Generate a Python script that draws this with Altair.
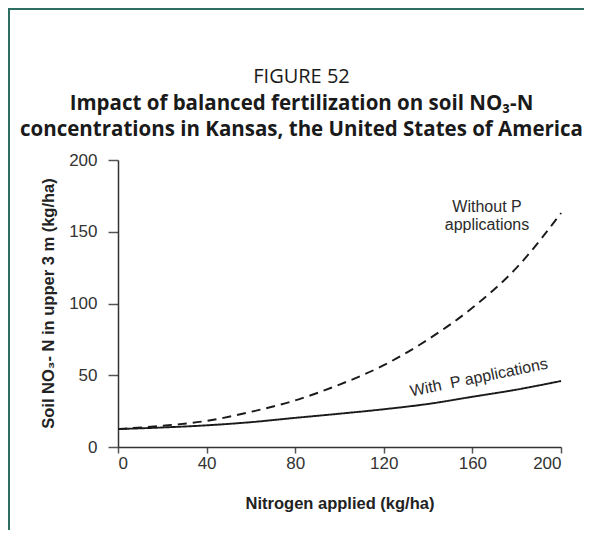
import altair as alt
import pandas as pd

# ---- data ----
nitrogen = [0, 20, 40, 60, 80, 100, 120, 140, 160, 180, 200]
without_p = [12.5, 14.8, 18.2, 24.5, 32.5, 43.5, 57, 75, 97, 125, 163]
with_p = [12.5, 13.6, 15.1, 17.3, 20.3, 23.2, 26.3, 30, 35, 40, 46]
series_names = ["Without P applications", "With P applications"]
x_ticks = [0, 40, 80, 120, 160, 200]
y_ticks = [0, 50, 100, 150, 200]

ann_text = ["Without P\napplications", "With\u00a0 P applications"]
ann_x = [166.6, 163.4]
ann_y = [163.9, 45.0]
ann_angle = [0, 348.5]

rows = []
for n, a, b in zip(nitrogen, without_p, with_p):
    rows.append({"N": n, "NO3": a, "series": series_names[0]})
    rows.append({"N": n, "NO3": b, "series": series_names[1]})
df = pd.DataFrame(rows)
ann = pd.DataFrame({"text": ann_text, "x": ann_x, "y": ann_y, "angle": ann_angle})

W, H = 443, 287
PAD_L, PAD_T = 110, 152
TOTAL_W, TOTAL_H = 576, 522

SANS = "Liberation Sans, Arial, sans-serif"
TITLE_FONT = "Open Sans, Noto Sans, sans-serif"

xscale = alt.Scale(domain=[0, 200], nice=False)
yscale = alt.Scale(domain=[0, 200], nice=False)

lines = alt.Chart(df).mark_line(strokeWidth=1.9, color="#1a1a1a", interpolate="monotone").encode(
    x=alt.X("N:Q", scale=xscale,
            axis=alt.Axis(title="Nitrogen applied (kg/ha)", values=x_ticks, tickSize=6,
                          labelPadding=2, titleY=56, titleBaseline="middle")),
    y=alt.Y("NO3:Q", scale=yscale,
            axis=alt.Axis(title="Soil NO₃- N in upper 3 m (kg/ha)", values=y_ticks, tickSize=10,
                          labelPadding=11, titleX=-70, titleY=143, titleAngle=270,
                          titleAlign="center", titleBaseline="middle")),
    strokeDash=alt.StrokeDash("series:N",
                              scale=alt.Scale(domain=series_names, range=[[9, 6], [1, 0]]),
                              legend=None),
)

labels_top = alt.Chart(ann).transform_filter(alt.datum.angle == 0).mark_text(
    font=SANS, fontSize=16, color="#2a2a2a", align="center", baseline="alphabetic",
    lineBreak="\n", lineHeight=18
).encode(x=alt.X("x:Q", scale=xscale), y=alt.Y("y:Q", scale=yscale), text="text:N")

labels_rot = alt.Chart(ann).transform_filter(alt.datum.angle != 0).mark_text(
    font=SANS, fontSize=16, color="#2a2a2a", align="center", baseline="alphabetic",
    angle=348.5
).encode(x=alt.X("x:Q", scale=xscale), y=alt.Y("y:Q", scale=yscale), text="text:N")

frame_color = "#2d6e63"
frame_left = alt.Chart(ann).mark_rule(color=frame_color, strokeWidth=2).encode(
    x=alt.value(-PAD_L + 1), y=alt.value(-PAD_T), y2=alt.value(TOTAL_H - PAD_T)
)
frame_top = alt.Chart(ann).mark_rule(color=frame_color, strokeWidth=2).encode(
    y=alt.value(-PAD_T + 1), x=alt.value(-PAD_L), x2=alt.value(TOTAL_W - PAD_L)
)

chart = alt.layer(frame_left, frame_top, lines, labels_top, labels_rot).properties(
    width=W, height=H,
    title=alt.TitleParams(
        text="FIGURE 52",
        subtitle=["Impact of balanced fertilization on soil NO₃-N",
                  "concentrations in Kansas, the United States of America"],
        font=TITLE_FONT, fontSize=20, fontWeight="normal", color="#1a1a1a",
        subtitleFont=TITLE_FONT, subtitleFontSize=20.5, subtitleFontWeight="bold",
        subtitleColor="#1a1a1a", subtitleLineHeight=26, subtitlePadding=7,
        anchor="middle", dx=-38, offset=-133,
    ),
    autosize=alt.AutoSizeParams(type="none"),
    padding={"left": PAD_L, "top": PAD_T, "right": TOTAL_W - PAD_L - W, "bottom": TOTAL_H - PAD_T - H},
).configure_view(stroke=None).configure_axis(
    grid=False, domainColor="#333333", domainWidth=1.5, tickColor="#555555", tickWidth=1.5,
    labelFont=SANS, labelFontSize=17, labelColor="#333333",
    titleFont=SANS, titleFontSize=16.5, titleFontWeight="bold", titleColor="#222222",
)

chart.save("out.html", embed_options={"renderer": "svg", "actions": False})
